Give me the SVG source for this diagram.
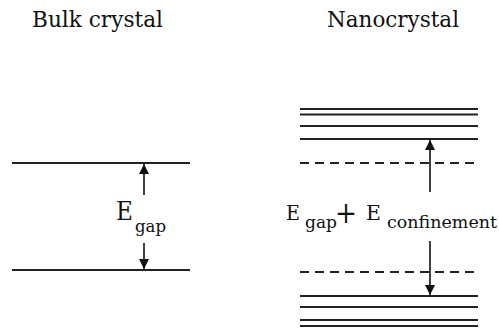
<svg xmlns="http://www.w3.org/2000/svg" width="499" height="331" viewBox="0 0 499 331">
<defs>
<style>
.t{font-family:"DejaVu Serif","Liberation Serif","Times New Roman",serif;fill:#111}
.lv{stroke:#222;stroke-width:2;fill:none}
.ds{stroke:#222;stroke-width:2;fill:none;stroke-dasharray:9 6}
.ar{stroke:#111;stroke-width:1.6;fill:none}
</style>
<marker id="ah" viewBox="0 0 10 10" refX="10" refY="5" markerWidth="10" markerHeight="10" markerUnits="userSpaceOnUse" orient="auto">
<path d="M0,0 L10,5 L0,10 z" fill="#111"/>
</marker>
</defs>
<rect width="499" height="331" fill="#fff"/>
<g id="bulk">
<text class="t" x="32" y="27" font-size="23" textLength="131" lengthAdjust="spacingAndGlyphs">Bulk crystal</text>
<line class="lv" x1="12" y1="163" x2="190" y2="163"/>
<line class="lv" x1="12" y1="270" x2="190" y2="270"/>
<text class="t" x="116" y="220" font-size="26" textLength="17" lengthAdjust="spacingAndGlyphs">E</text>
<text class="t" x="135" y="232" font-size="17" textLength="31" lengthAdjust="spacingAndGlyphs">gap</text>
</g>
<g id="nano">
<text class="t" x="327" y="27" font-size="23" textLength="132" lengthAdjust="spacingAndGlyphs">Nanocrystal</text>
<line class="lv" x1="300" y1="109" x2="478" y2="109"/>
<line class="lv" x1="300" y1="114.5" x2="478" y2="114.5"/>
<line class="lv" x1="300" y1="126" x2="478" y2="126"/>
<line class="lv" x1="300" y1="139" x2="478" y2="139"/>
<line class="ds" x1="300" y1="163" x2="478" y2="163"/>
<line class="ds" x1="300" y1="272" x2="478" y2="272"/>
<line class="lv" x1="300" y1="296" x2="478" y2="296"/>
<line class="lv" x1="300" y1="307" x2="478" y2="307"/>
<line class="lv" x1="300" y1="320" x2="478" y2="320"/>
<line class="lv" x1="300" y1="326" x2="478" y2="326"/>
<text class="t" x="286" y="220" font-size="21" textLength="14" lengthAdjust="spacingAndGlyphs">E</text>
<text class="t" x="305" y="228" font-size="17" textLength="32" lengthAdjust="spacingAndGlyphs">gap</text>
<text class="t" x="335" y="223" font-size="30" textLength="22" lengthAdjust="spacingAndGlyphs">+</text>
<text class="t" x="366" y="220" font-size="21" textLength="15" lengthAdjust="spacingAndGlyphs">E</text>
<text class="t" x="387" y="228" font-size="17" textLength="110" lengthAdjust="spacingAndGlyphs">confinement</text>
</g>
<g id="connectors">
<line class="ar" x1="144" y1="195" x2="144" y2="164" marker-end="url(#ah)"/>
<line class="ar" x1="144" y1="243" x2="144" y2="269" marker-end="url(#ah)"/>
<line class="ar" x1="430" y1="192" x2="430" y2="140" marker-end="url(#ah)"/>
<line class="ar" x1="430" y1="241" x2="430" y2="295" marker-end="url(#ah)"/>
</g>
</svg>
